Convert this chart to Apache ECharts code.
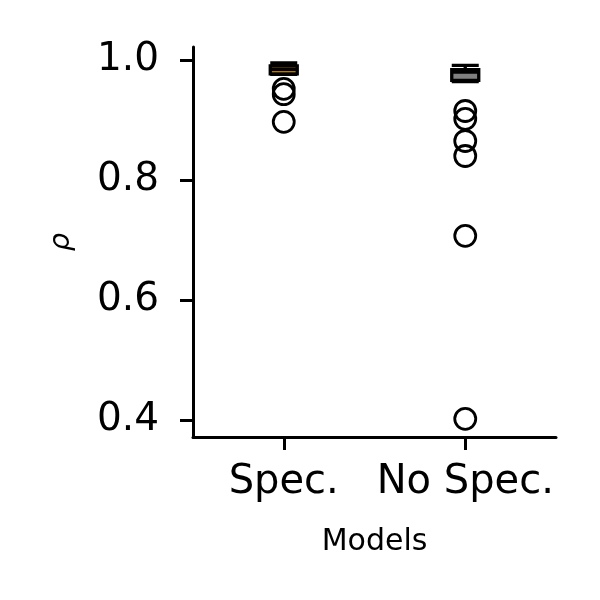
<!DOCTYPE html>
<html>
<head>
<meta charset="utf-8">
<script src="https://cdn.jsdelivr.net/npm/echarts@6/dist/echarts.min.js"></script>
<style>html,body{margin:0;padding:0;background:#fff}#c{width:600px;height:600px}</style>
</head>
<body>
<div id="c"></div>
<script>
const categories = ['Spec.', 'No Spec.'];
// [lower whisker, Q1, median, Q3, upper whisker]
const boxSpec = [0.9762, 0.977, 0.984, 0.990, 0.995];
const boxNoSpec = [0.964, 0.966, 0.980, 0.984, 0.991];
const outliersSpec = [0.952, 0.943, 0.897];
const outliersNoSpec = [0.915, 0.902, 0.865, 0.840, 0.707, 0.402];
const yTicks = [0.4, 0.6, 0.8, 1.0];
const boxFills = ['#f5a300', '#808080'];

const FONT = 'DejaVu Sans';
const chart = echarts.init(document.getElementById('c'), null, {renderer: 'canvas'});

const outlierData = [];
outliersSpec.forEach(v => outlierData.push([0, v]));
outliersNoSpec.forEach(v => outlierData.push([1, v]));

chart.setOption({
  animation: false,
  backgroundColor: '#ffffff',
  grid: {left: 193, right: 44, top: 47, bottom: 163},
  xAxis: {
    type: 'category',
    data: categories,
    boundaryGap: true,
    name: 'Models',
    nameLocation: 'middle',
    nameGap: 90,
    nameTextStyle: {fontFamily: FONT, fontSize: 30, color: '#000'},
    axisLine: {lineStyle: {color: '#000', width: 3}},
    axisTick: {show: true, alignWithLabel: true, interval: 0, length: 13, lineStyle: {color: '#000', width: 3}},
    axisLabel: {fontFamily: FONT, fontSize: 40, color: '#000', margin: 26, interval: 0, hideOverlap: false},
    splitLine: {show: false}
  },
  yAxis: {
    type: 'value',
    min: 0.3717,
    max: 1.0217,
    name: 'ρ',
    nameLocation: 'middle',
    nameGap: 117,
    nameRotate: 90,
    nameTextStyle: {fontFamily: FONT, fontSize: 29, fontStyle: 'italic', color: '#000'},
    axisLine: {show: true, lineStyle: {color: '#000', width: 3}},
    axisTick: {show: true, length: 13, lineStyle: {color: '#000', width: 3}, customValues: yTicks},
    axisLabel: {fontFamily: FONT, fontSize: 39, color: '#000', margin: 34, customValues: yTicks,
      formatter: v => Number(v).toFixed(1)},
    splitLine: {show: false}
  },
  series: [
    {
      type: 'boxplot',
      boxWidth: [27, 27],
      itemStyle: {borderColor: '#000', borderWidth: 3.3},
      data: [
        {value: boxSpec, itemStyle: {color: boxFills[0], borderColor: '#000', borderWidth: 3.3}},
        {value: boxNoSpec, itemStyle: {color: boxFills[1], borderColor: '#000', borderWidth: 3.3}}
      ],
      emphasis: {disabled: true}
    },
    {
      type: 'scatter',
      data: outlierData,
      symbol: 'circle',
      symbolSize: 21,
      itemStyle: {color: 'rgba(0,0,0,0)', borderColor: '#000', borderWidth: 2.8, opacity: 1},
      emphasis: {disabled: true}
    }
  ]
});
</script>
</body>
</html>
